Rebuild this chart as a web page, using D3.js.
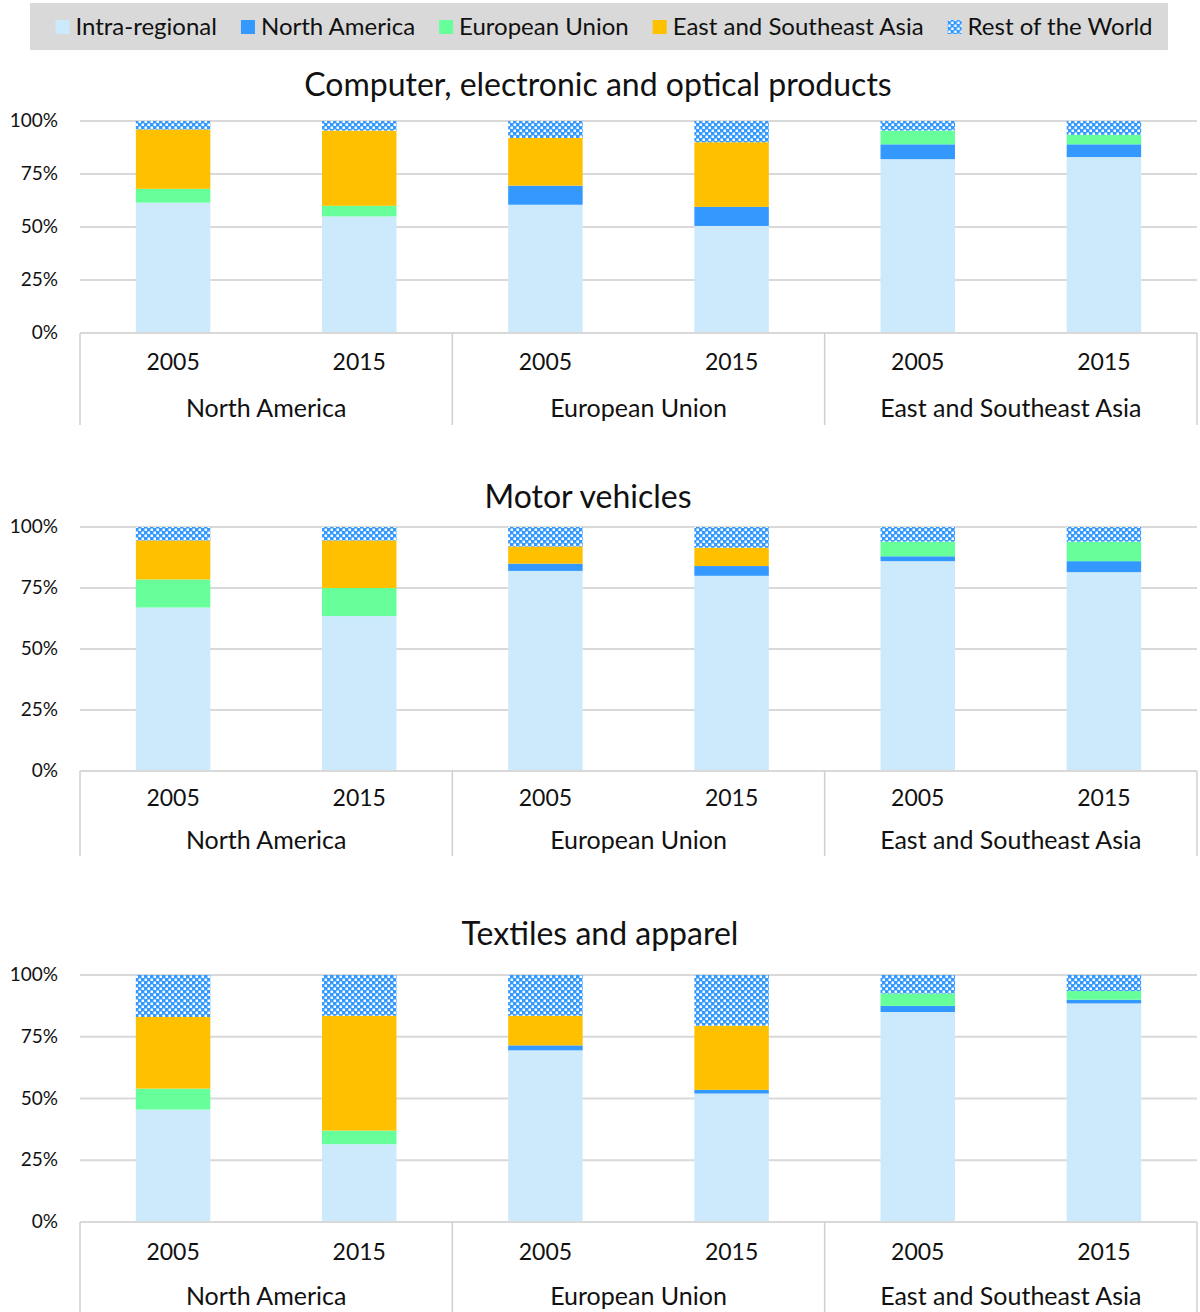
<!DOCTYPE html>
<html>
<head>
<meta charset="utf-8">
<script src="https://cdn.jsdelivr.net/npm/d3@7"></script>
<style>
  body { margin: 0; background: #fff; }
  text { font-family: Lato, "Open Sans", sans-serif; fill: #111; }
</style>
</head>
<body>
<script>
// categories
var regions = ["North America", "European Union", "East and Southeast Asia"];
var years = ["2005", "2015"];
var seriesNames = ["Intra-regional", "North America", "European Union", "East and Southeast Asia", "Rest of the World"];
var yTicks = [0, 25, 50, 75, 100];

// values in %, order: NA 2005, NA 2015, EU 2005, EU 2015, ESA 2005, ESA 2015
var compIntra = [61.5, 55, 60.5, 50.5, 82, 83];
var compNA    = [0, 0, 9, 9, 7, 6];
var compEU    = [6.5, 5, 0, 0, 6.5, 4.5];
var compESA   = [28, 35.5, 22.5, 30.5, 0, 0];
var compRoW   = [4, 4.5, 8, 10, 4.5, 6.5];

var motorIntra = [67, 63.5, 82, 80, 86, 81.5];
var motorNA    = [0, 0, 3, 4, 2, 4.5];
var motorEU    = [11.5, 11.5, 0, 0, 6, 8];
var motorESA   = [16, 19.5, 7, 7.5, 0, 0];
var motorRoW   = [5.5, 5.5, 8, 8.5, 6, 6];

var textIntra = [45.5, 31.5, 69.5, 52, 85, 88.5];
var textNA    = [0, 0, 2, 1.5, 2.5, 1.5];
var textEU    = [8.5, 5.5, 0, 0, 5, 3.5];
var textESA   = [29, 46.5, 12, 26, 0, 0];
var textRoW   = [17, 16.5, 16.5, 20.5, 7.5, 6.5];

var colors = ["#cdeafc", "#3399ff", "#66ff99", "#ffc000", "url(#rowPattern)"];

var W = 1200, H = 1312;
var svg = d3.select("body").append("svg").attr("width", W).attr("height", H);

// checker pattern for Rest of the World
var pat = svg.append("defs").append("pattern")
  .attr("id", "rowPattern").attr("patternUnits", "userSpaceOnUse")
  .attr("width", 6).attr("height", 6);
pat.append("rect").attr("width", 6).attr("height", 6).attr("fill", "#3399ff");
pat.append("rect").attr("x", 0.5).attr("y", 0.5).attr("width", 2.5).attr("height", 2.5).attr("fill", "#fff");
pat.append("rect").attr("x", 3.5).attr("y", 3.5).attr("width", 2.5).attr("height", 2.5).attr("fill", "#fff");

// legend
svg.append("rect").attr("x", 30).attr("y", 3).attr("width", 1138).attr("height", 47).attr("fill", "#d9d9d9");
var leg = svg.append("g");
var lx = 0;
seriesNames.forEach(function (name, i) {
  var g = leg.append("g").attr("transform", "translate(" + lx + ",0)");
  g.append("rect").attr("x", 0).attr("y", 20).attr("width", 14).attr("height", 14).attr("fill", colors[i]);
  var t = g.append("text").attr("x", 20).attr("y", 35).attr("font-size", 24).text(name);
  lx += 20 + t.node().getComputedTextLength() + 24;
});
var legW = lx - 24;
leg.attr("transform", "translate(" + (604 - legW / 2) + ",0)");

var panels = [
  { title: "Computer, electronic and optical products", titleX: 598, titleY: 96, top: 121, bottom: 333, yearY: 370, groupY: 417, lineEnd: 425,
    data: [compIntra, compNA, compEU, compESA, compRoW] },
  { title: "Motor vehicles", titleX: 588, titleY: 508, top: 527, bottom: 771, yearY: 806, groupY: 849, lineEnd: 856,
    data: [motorIntra, motorNA, motorEU, motorESA, motorRoW] },
  { title: "Textiles and apparel", titleX: 600, titleY: 945, top: 975, bottom: 1222, yearY: 1260, groupY: 1305, lineEnd: 1312,
    data: [textIntra, textNA, textEU, textESA, textRoW] }
];

var cats = [];
regions.forEach(function (r) { years.forEach(function (y) { cats.push(r + "|" + y); }); });

var x = d3.scaleBand().domain(cats).range([80, 1197]).paddingInner(0.6).paddingOuter(0.3);
var xg = d3.scaleBand().domain(regions).range([80, 1197]);

panels.forEach(function (p) {
  var y = d3.scaleLinear().domain([0, 100]).range([p.bottom, p.top]);
  var g = svg.append("g");

  g.append("text").attr("x", p.titleX).attr("y", p.titleY).attr("text-anchor", "middle")
    .attr("font-size", 32).text(p.title);

  // gridlines
  g.selectAll(".grid").data(yTicks).enter().append("line")
    .attr("x1", 80).attr("x2", 1197)
    .attr("y1", function (d) { return y(d); }).attr("y2", function (d) { return y(d); })
    .attr("stroke", "#d9d9d9").attr("stroke-width", 2);

  g.selectAll(".ytick").data(yTicks).enter().append("text")
    .attr("x", 58).attr("y", function (d) { return y(d) + 6; })
    .attr("text-anchor", "end").attr("font-size", 19).text(function (d) { return d + "%"; });

  // bars
  var rows = cats.map(function (c, i) {
    var o = { cat: c };
    seriesNames.forEach(function (s, k) { o[s] = p.data[k][i]; });
    return o;
  });
  var stacked = d3.stack().keys(seriesNames)(rows);
  stacked.forEach(function (layer, k) {
    g.selectAll(".bar" + k).data(layer).enter().append("rect")
      .attr("x", function (d) { return x(d.data.cat); })
      .attr("width", x.bandwidth())
      .attr("y", function (d) { return y(d[1]); })
      .attr("height", function (d) { return y(d[0]) - y(d[1]); })
      .attr("fill", colors[k]);
  });

  // category axis
  g.append("line").attr("x1", 80).attr("x2", 1197).attr("y1", p.bottom).attr("y2", p.bottom)
    .attr("stroke", "#d9d9d9").attr("stroke-width", 2);
  var seps = regions.map(function (r) { return xg(r); }).concat([1197]);
  g.selectAll(".sep").data(seps).enter().append("line")
    .attr("x1", function (d) { return d; }).attr("x2", function (d) { return d; })
    .attr("y1", p.bottom).attr("y2", p.lineEnd)
    .attr("stroke", "#d0d0d0").attr("stroke-width", 1.5);

  g.selectAll(".year").data(cats).enter().append("text")
    .attr("x", function (d) { return x(d) + x.bandwidth() / 2; })
    .attr("y", p.yearY).attr("text-anchor", "middle").attr("font-size", 23)
    .text(function (d) { return d.split("|")[1]; });

  g.selectAll(".region").data(regions).enter().append("text")
    .attr("x", function (d) { return xg(d) + xg.bandwidth() / 2; })
    .attr("y", p.groupY).attr("text-anchor", "middle").attr("font-size", 25)
    .text(function (d) { return d; });
});
</script>
</body>
</html>
